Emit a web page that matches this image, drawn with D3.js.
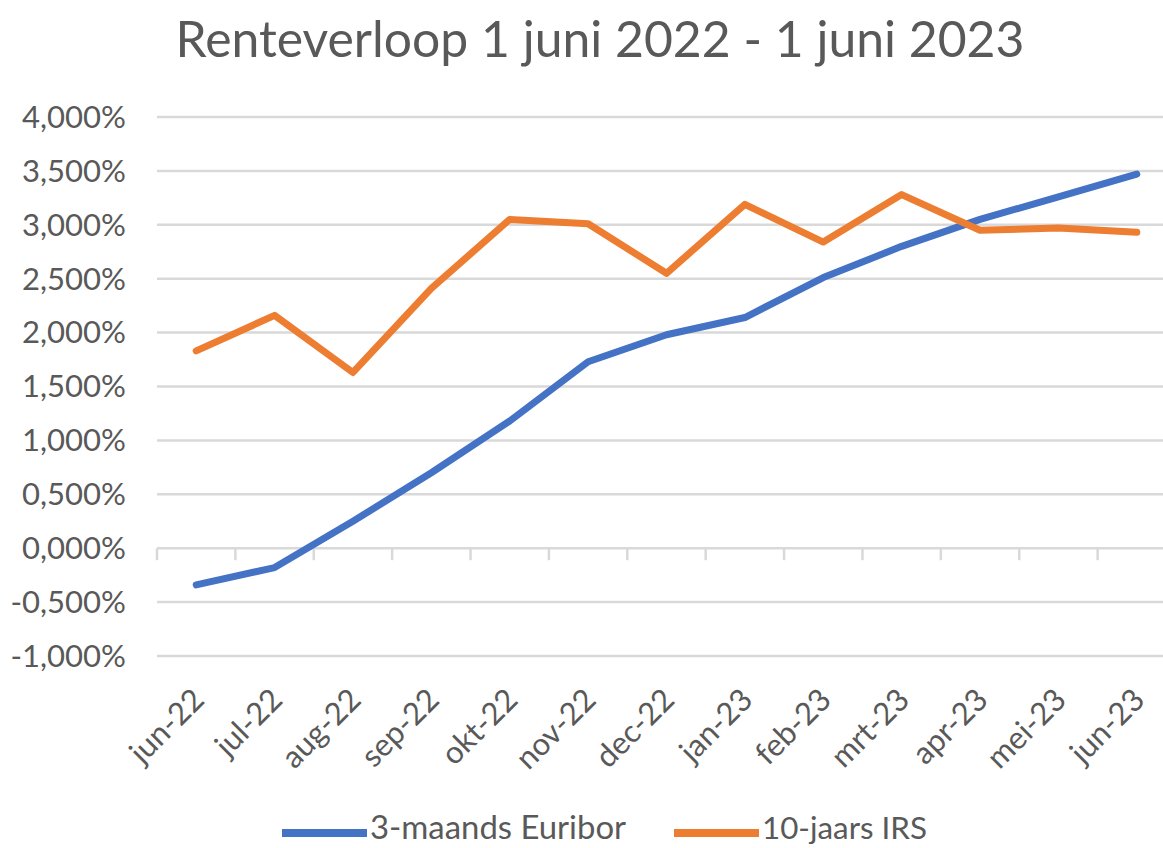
<!DOCTYPE html>
<html>
<head>
<meta charset="utf-8">
<script src="https://cdn.jsdelivr.net/npm/d3@7"></script>
<style>
  html, body { margin: 0; padding: 0; background: #fff; overflow: hidden; }
  svg { display: block; font-family: Lato, "Open Sans", sans-serif; }
</style>
</head>
<body>
<div id="chart"></div>
<script>
// Data (percent)
var months = ["jun-22", "jul-22", "aug-22", "sep-22", "okt-22", "nov-22", "dec-22",
              "jan-23", "feb-23", "mrt-23", "apr-23", "mei-23", "jun-23"];
var euribor = [-0.34, -0.18, 0.25, 0.70, 1.18, 1.73, 1.98, 2.14, 2.51, 2.80, 3.05, 3.26, 3.47];
var irs = [1.83, 2.16, 1.63, 2.41, 3.05, 3.01, 2.55, 3.19, 2.84, 3.28, 2.95, 2.97, 2.93];
var yTicks = [-1, -0.5, 0, 0.5, 1, 1.5, 2, 2.5, 3, 3.5, 4];
var seriesNames = ["3-maands Euribor", "10-jaars IRS"];
var title = "Renteverloop 1 juni 2022 - 1 juni 2023";

var width = 1163, height = 848;
var colors = ["#4472C4", "#ED7D31"];
var textColor = "#595959", gridColor = "#d9d9d9";

var svg = d3.select("#chart").append("svg")
    .attr("width", width)
    .attr("height", height);

var x = d3.scaleBand()
    .domain(months)
    .range([157, 1176]);

var y = d3.scaleLinear()
    .domain([-1, 4])
    .range([656, 117]);

var fmt = function (v) { return d3.format(".3f")(v).replace(".", ",").replace("−", "-") + "%"; };

// scale font-size so a text node gets a given width
function fitWidth(node, w) {
    var fs = parseFloat(node.getAttribute("font-size"));
    var len = node.getComputedTextLength();
    node.setAttribute("font-size", (fs * w / len).toFixed(2));
}

// Title
var t = svg.append("text")
    .attr("x", 600)
    .attr("y", 57)
    .attr("text-anchor", "middle")
    .attr("font-size", 48)
    .attr("fill", textColor)
    .text(title);
fitWidth(t.node(), 849);

// Gridlines
svg.append("g")
    .selectAll("line")
    .data(yTicks)
    .enter().append("line")
    .attr("x1", x.range()[0])
    .attr("x2", x.range()[1])
    .attr("y1", function (d) { return y(d); })
    .attr("y2", function (d) { return y(d); })
    .attr("stroke", gridColor)
    .attr("stroke-width", 2.5);

// Category tick marks on the zero line
svg.append("g")
    .selectAll("line")
    .data(months.concat(["end"]))
    .enter().append("line")
    .attr("x1", function (d, i) { return x.range()[0] + i * x.step(); })
    .attr("x2", function (d, i) { return x.range()[0] + i * x.step(); })
    .attr("y1", y(0))
    .attr("y2", y(0) + 12)
    .attr("stroke", gridColor)
    .attr("stroke-width", 2.5);

// Y labels
var yl = svg.append("g")
    .selectAll("text")
    .data(yTicks)
    .enter().append("text")
    .attr("x", 126)
    .attr("y", function (d) { return y(d); })
    .attr("dy", "0.35em")
    .attr("text-anchor", "end")
    .attr("font-size", 31)
    .attr("fill", textColor)
    .text(fmt);
var labelSize = 31;
(function () {
    var n = yl.filter(function (d) { return d === 4; }).node();
    fitWidth(n, 104);
    labelSize = parseFloat(n.getAttribute("font-size"));
    yl.attr("font-size", labelSize);
})();

// X labels
svg.append("g")
    .selectAll("text")
    .data(months)
    .enter().append("text")
    .attr("transform", function (d) {
        return "translate(" + (x(d) + x.bandwidth() / 2 + 2) + ",694) rotate(-45)";
    })
    .attr("dy", "0.35em")
    .attr("text-anchor", "end")
    .attr("font-size", labelSize)
    .attr("fill", textColor)
    .text(function (d) { return d; });

// Lines
var line = d3.line()
    .x(function (d, i) { return x(months[i]) + x.bandwidth() / 2; })
    .y(function (d) { return y(d); });

[euribor, irs].forEach(function (s, k) {
    svg.append("path")
        .datum(s)
        .attr("d", line)
        .attr("fill", "none")
        .attr("stroke", colors[k])
        .attr("stroke-width", 7)
        .attr("stroke-linejoin", "round")
        .attr("stroke-linecap", "round");
});

// Legend (kept just inside the bottom edge so descenders are not cut)
var legendX = [282, 674], legendW = [256, 165];
var lg = svg.append("g")
    .selectAll("g")
    .data(seriesNames)
    .enter().append("g");
lg.append("line")
    .attr("x1", function (d, i) { return legendX[i]; })
    .attr("x2", function (d, i) { return legendX[i] + 85; })
    .attr("y1", 833)
    .attr("y2", 833)
    .attr("stroke", function (d, i) { return colors[i]; })
    .attr("stroke-width", 8);
lg.append("text")
    .attr("x", function (d, i) { return legendX[i] + 88; })
    .attr("y", 839)
    .attr("font-size", labelSize)
    .attr("fill", textColor)
    .text(function (d) { return d; })
    .each(function (d, i) { fitWidth(this, legendW[i]); });
</script>
</body>
</html>
